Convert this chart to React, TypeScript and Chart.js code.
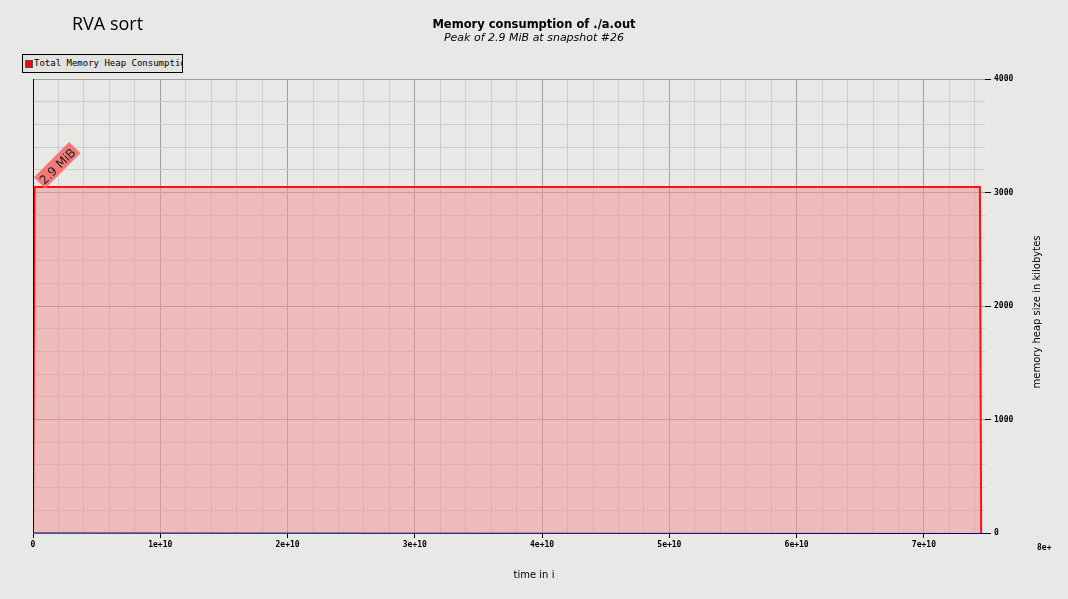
import { useEffect, useRef } from "react";
import { Chart, registerables } from "chart.js";

Chart.register(...registerables);

// time (instructions) and heap size (kB)
const timeValues = [0, 1.2e8, 7.44e10, 7.45e10];
const heapValues = [0, 3048, 3048, 0];
const peakLabel = "2.9 MiB";
const peakIndex = 1;
const yTitle = "memory heap size in kilobytes";

const mono = "'DejaVu Sans Mono', monospace";

const peakPlugin = {
  id: "peak",
  afterDatasetsDraw(chart: any) {
    const { ctx, scales, chartArea } = chart;
    const x = scales.x.getPixelForValue(timeValues[peakIndex]);
    const y = scales.y.getPixelForValue(heapValues[peakIndex]);
    ctx.save();
    ctx.strokeStyle = "#000080";
    ctx.lineWidth = 1;
    ctx.beginPath();
    ctx.moveTo(chartArea.left + 0.5, chartArea.top);
    ctx.lineTo(chartArea.left + 0.5, chartArea.bottom);
    ctx.lineTo(chartArea.right, chartArea.bottom + 0.5);
    ctx.stroke();
    // rotated y title, reading upward
    ctx.save();
    ctx.translate(1040, (chartArea.top + chartArea.bottom) / 2 + 6);
    ctx.rotate(-Math.PI / 2);
    ctx.font = "10px 'DejaVu Sans', sans-serif";
    ctx.fillStyle = "#000";
    ctx.textAlign = "center";
    ctx.fillText(yTitle, 0, 0);
    ctx.restore();
    ctx.translate(x + 10, y - 2);
    ctx.rotate(-Math.PI / 4);
    ctx.font = "12px 'DejaVu Sans', sans-serif";
    const w = ctx.measureText(peakLabel).width;
    ctx.fillStyle = "rgba(245,110,110,0.9)";
    ctx.fillRect(-2, -13, w + 5, 16);
    ctx.fillStyle = "#222";
    ctx.fillText(peakLabel, 0, 0);
    ctx.restore();
  },
};

export default function App() {
  const ref = useRef<HTMLCanvasElement | null>(null);

  useEffect(() => {
    document.body.style.margin = "0";
    document.body.style.background = "#e8e8e6";
    const canvas = ref.current;
    if (!canvas) return;
    const chart = new Chart(canvas, {
      type: "line",
      data: {
        datasets: [
          {
            data: timeValues.map((t, i) => ({ x: t, y: heapValues[i] })),
            borderColor: "#ff1010",
            borderWidth: 2,
            backgroundColor: "rgba(240,150,150,0.55)",
            fill: "origin",
            pointRadius: 0,
            tension: 0,
          },
        ],
      },
      options: {
        animation: false,
        responsive: false,
        layout: { padding: { left: 33, top: 79, right: 0, bottom: 0 } },
        plugins: { legend: { display: false }, tooltip: { enabled: false } },
        scales: {
          x: {
            type: "linear",
            min: 0,
            max: 7.48e10,
            afterFit: (s: any) => { s.height = 66; },
            afterBuildTicks: (s: any) => {
              const t = [];
              for (let v = 0; v <= 7.48e10; v += 2e9) t.push({ value: v });
              s.ticks = t;
            },
            grid: {
              color: (c: any) => (c.tick && c.tick.value % 1e10 === 0 ? "#a0a0a0" : "#cccccc"),
              tickColor: (c: any) => (c.tick && c.tick.value % 1e10 === 0 ? "#000" : "transparent"),
              tickLength: 5,
            },
            border: { display: false },
            ticks: {
              autoSkip: false,
              maxRotation: 0,
              padding: 2,
              color: "#000",
              font: { family: mono, size: 8, weight: "bold" },
              callback: (v: any) => (v === 0 ? "0" : v % 1e10 === 0 ? `${v / 1e10}e+10` : ""),
            },
            title: { display: false },
          },
          y: {
            position: "right",
            min: 0,
            max: 4000,
            afterFit: (s: any) => { s.width = 83; },
            afterBuildTicks: (s: any) => {
              const t = [];
              for (let v = 0; v <= 4000; v += 200) t.push({ value: v });
              s.ticks = t;
            },
            grid: {
              color: (c: any) => (c.tick && c.tick.value % 1000 === 0 ? "#a0a0a0" : "#cccccc"),
              tickColor: (c: any) => (c.tick && c.tick.value % 1000 === 0 ? "#000" : "transparent"),
              tickLength: 6,
            },
            border: { display: false },
            ticks: {
              autoSkip: false,
              padding: 3,
              color: "#000",
              font: { family: mono, size: 8, weight: "bold" },
              callback: (v: any) => (v % 1000 === 0 ? String(v) : ""),
            },
            title: { display: false },
          },
        },
      } as any,
      plugins: [peakPlugin],
    });
    return () => chart.destroy();
  }, []);

  return (
    <div style={{ position: "relative", width: 1068, height: 599, background: "#e8e8e6" }}>
      <canvas ref={ref} width={1068} height={599} style={{ position: "absolute", left: 0, top: 0 }} />
      <div style={{ position: "absolute", left: 72, top: 11, fontFamily: "'Open Sans', sans-serif", fontSize: 18, color: "#000" }}>
        RVA sort
      </div>
      <div style={{ position: "absolute", left: 0, width: 1068, top: 17, textAlign: "center", fontFamily: "'DejaVu Sans', sans-serif", fontSize: 11.5, fontWeight: "bold" }}>
        Memory consumption of ./a.out
      </div>
      <div style={{ position: "absolute", left: 0, width: 1068, top: 31, textAlign: "center", fontFamily: "'DejaVu Sans', sans-serif", fontSize: 11, fontStyle: "italic" }}>
        Peak of 2.9 MiB at snapshot #26
      </div>
      <div style={{ position: "absolute", left: 22, top: 54, width: 159, height: 17, border: "1px solid #000", background: "#e2e2e0", fontFamily: mono, fontSize: 9, lineHeight: "17px", display: "flex", alignItems: "center", whiteSpace: "nowrap", overflow: "hidden" }}>
        <span style={{ display: "inline-block", width: 6, height: 6, background: "#ff0000", border: "1px solid #555", margin: "0 1px 0 2px", flex: "none" }} />
        Total Memory Heap Consumption
      </div>
      <div style={{ position: "absolute", left: 1037, top: 543, fontFamily: mono, fontSize: 8, fontWeight: "bold" }}>8e+</div>
      <div style={{ position: "absolute", left: 0, width: 1068, top: 569, textAlign: "center", fontFamily: "'DejaVu Sans', sans-serif", fontSize: 10 }}>
        time in i
      </div>
    </div>
  );
}
